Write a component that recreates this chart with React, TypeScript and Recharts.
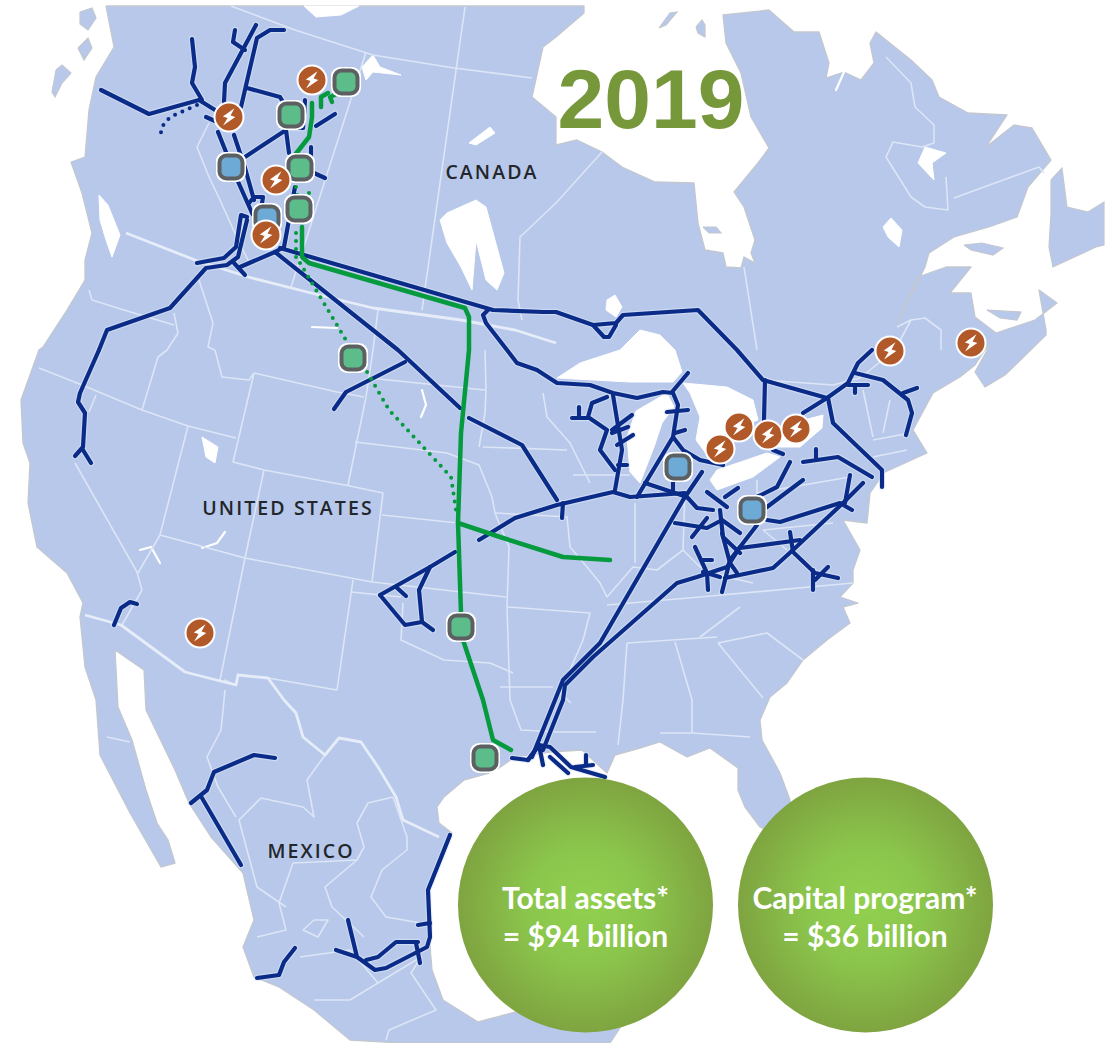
import React from "react";
import { ScatterChart, Scatter, XAxis, YAxis } from "recharts";

type P = [number, number];

const land: P[] = [[106,6],[114,47],[96,77],[89,110],[85,157],[71,162],[82,193],[92,233],[85,260],[85,280],[67,310],[43,347],[39,350],[21,400],[23,443],[30,463],[28,503],[37,547],[67,573],[83,603],[80,617],[85,667],[96,700],[100,755],[130,813],[161,867],[175,863],[168,840],[157,823],[146,790],[132,740],[118,707],[115,650],[144,670],[146,710],[175,770],[189,803],[211,837],[243,873],[254,920],[243,947],[254,977],[279,987],[314,1010],[350,1040],[400,1043],[610,1043],[622,1025],[560,1000],[478,1022],[443,1000],[432,970],[428,923],[428,887],[443,857],[452,833],[439,823],[437,807],[444,797],[464,780],[489,773],[496,770],[515,757],[550,752],[582,750],[607,773],[615,755],[640,748],[660,742],[687,757],[710,748],[738,768],[738,790],[745,807],[760,827],[790,840],[790,800],[780,773],[762,740],[760,720],[770,697],[787,683],[803,660],[827,640],[850,623],[843,607],[858,603],[840,597],[853,583],[853,570],[860,550],[843,520],[867,523],[870,493],[877,483],[883,473],[927,453],[913,430],[933,393],[960,377],[975,365],[985,350],[990,345],[975,372],[985,387],[1005,375],[1046,335],[1046,330],[1039,290],[1057,303],[1035,320],[996,333],[975,317],[971,293],[950,293],[971,267],[946,267],[918,277],[897,323],[925,267],[929,253],[954,237],[989,227],[1017,217],[1028,187],[1051,160],[1032,128],[1014,125],[986,147],[1007,115],[968,113],[939,97],[932,80],[911,60],[876,32],[870,43],[874,63],[861,80],[844,72],[826,78],[829,63],[819,32],[794,32],[769,10],[723,15],[726,43],[741,73],[751,117],[769,148],[758,163],[734,192],[744,207],[755,240],[751,253],[755,263],[744,257],[741,268],[726,267],[723,253],[705,250],[698,223],[694,183],[655,182],[622,167],[602,152],[577,140],[556,145],[556,117],[532,97],[543,47],[556,37],[584,13],[584,6],[106,6]];

const newfoundland: P[] = [[1051,180],[1062,168],[1067,207],[1088,212],[1104,202],[1104,245],[1096,247],[1053,267],[1049,247],[1051,213],[1051,180]];
const anticosti: P[] = [[964,245],[982,243],[1003,248],[993,255],[971,250],[964,245]];
const princeEdward: P[] = [[987,310],[1021,312],[1017,320],[1000,318],[987,310]];
const hudsonIslandA: P[] = [[659,28],[670,13],[677,12],[666,25],[659,28]];
const hudsonIslandB: P[] = [[696,27],[702,20],[705,25],[705,37],[698,33],[696,27]];
const akimiski: P[] = [[703,227],[716,227],[721,233],[709,233],[703,227]];
const haidaGwaii: P[] = [[56,70],[62,65],[71,73],[62,83],[55,97],[52,92],[56,70]];
const panhandleA: P[] = [[80,12],[92,8],[96,18],[88,30],[80,24],[80,12]];
const panhandleB: P[] = [[78,48],[88,38],[92,48],[84,60],[78,48]];
const islands = [newfoundland, anticosti, princeEdward, hudsonIslandA, hudsonIslandB, akimiski, haidaGwaii, panhandleA, panhandleB];

const strait: P[] = [[99,195],[108,205],[120,235],[112,257],[106,240],[100,220],[99,195]];
const superior: P[] = [[557,378],[580,363],[620,350],[640,330],[660,335],[675,350],[682,372],[673,382],[630,382],[593,380],[557,378]];
const michigan: P[] = [[636,411],[667,393],[674,407],[662,423],[654,447],[640,483],[630,472],[627,437],[636,411]];
const huron: P[] = [[683,383],[727,387],[753,400],[758,420],[717,437],[707,455],[696,440],[700,417],[690,393],[683,383]];
const erie: P[] = [[710,480],[717,470],[767,453],[780,457],[753,477],[717,490],[710,480]];
const ontarioLake: P[] = [[775,447],[785,425],[823,415],[822,428],[800,447],[775,447]];
const winnipeg: P[] = [[440,220],[447,213],[476,200],[486,207],[504,273],[497,290],[486,280],[476,240],[472,290],[461,267],[447,243],[440,220]];
const greatSlave: P[] = [[362,67],[373,55],[380,67],[401,75],[373,72],[366,80],[362,67]];
const greatBear: P[] = [[304,6],[359,6],[341,15],[316,17],[304,6]];
const athabasca: P[] = [[469,143],[490,127],[495,133],[476,145],[469,143]];
const woods: P[] = [[607,300],[615,295],[622,307],[616,317],[606,310],[607,300]];
const mistassini: P[] = [[883,227],[891,218],[902,230],[899,247],[888,237],[883,227]];
const caniapiscau: P[] = [[918,163],[925,147],[946,153],[932,163],[934,180],[918,163]];
const saltLake: P[] = [[202,437],[218,447],[215,463],[206,457],[202,437]];
const lakes = [strait, superior, michigan, huron, erie, ontarioLake, winnipeg, greatSlave, greatBear, athabasca, woods, mistassini, caniapiscau, saltLake];

const parallel49: P[] = [[126,233],[195,260],[248,277],[319,295],[373,308],[461,320],[515,330],[556,343]];
const mexicoBorder: P[] = [[85,615],[121,625],[185,672],[236,685],[238,675],[268,678],[284,700],[296,713],[303,737],[325,755],[339,738],[361,742],[378,767],[396,797],[403,820],[439,837]];
const wideBorders = [parallel49, mexicoBorder];

const borders: P[][] = [
  [[39,368],[82,385],[142,410],[188,426],[236,438]],
  [[254,373],[233,462],[264,470],[350,486],[383,493],[372,582]],
  [[254,373],[337,392],[364,397]],
  [[264,470],[245,558]],
  [[382,515],[458,523]],
  [[160,535],[245,558],[372,582],[506,597]],
  [[245,558],[220,680]],
  [[353,580],[337,690],[268,678]],
  [[224,680],[236,685]],
  [[188,426],[160,535],[138,573]],
  [[75,463],[137,572],[142,590],[122,625]],
  [[158,357],[142,410]],
  [[96,395],[89,412]],
  [[215,350],[222,377],[249,380],[254,373]],
  [[199,280],[213,323],[208,347],[215,350]],
  [[174,313],[178,333],[167,350],[158,357]],
  [[89,290],[92,300],[124,310],[174,325]],
  [[378,310],[373,350],[366,397],[348,485]],
  [[369,378],[485,390]],
  [[355,442],[447,453],[479,465],[492,497],[495,513],[509,547]],
  [[485,350],[486,390],[485,413],[479,447]],
  [[483,447],[567,450]],
  [[495,513],[568,517]],
  [[509,547],[507,607],[510,700],[521,730],[557,732],[596,732]],
  [[351,592],[401,597]],
  [[403,603],[401,640],[444,660],[490,663],[513,673]],
  [[507,607],[590,613],[583,640],[570,670],[557,690],[571,703]],
  [[500,687],[553,687]],
  [[567,517],[570,547],[587,567],[600,583],[607,597],[633,567],[657,570],[683,550],[700,567],[727,577],[753,583]],
  [[607,605],[700,597],[853,583]],
  [[627,643],[717,637]],
  [[635,503],[635,563]],
  [[627,643],[623,700],[618,745]],
  [[675,642],[692,700],[692,733]],
  [[660,733],[692,733],[750,737]],
  [[718,643],[767,633],[803,660]],
  [[718,643],[763,698]],
  [[700,637],[740,607]],
  [[543,393],[547,417],[570,443],[590,483]],
  [[573,475],[630,475]],
  [[685,490],[683,550]],
  [[757,480],[757,493],[850,477]],
  [[763,530],[833,523]],
  [[763,530],[787,550]],
  [[863,390],[873,437]],
  [[883,433],[890,400]],
  [[873,440],[910,433]],
  [[873,457],[907,450]],
  [[763,380],[833,385],[860,378],[895,350],[911,320]],
  [[231,6],[295,30],[373,55],[454,68],[532,78]],
  [[209,123],[197,147],[209,177],[220,200],[238,240],[248,260]],
  [[366,52],[291,287]],
  [[465,7],[422,310]],
  [[602,152],[556,203],[520,237],[518,300],[522,320]],
  [[744,267],[757,350]],
  [[897,327],[911,320],[925,318],[941,330],[941,350]],
  [[886,57],[911,83],[915,107],[934,125],[934,143],[922,147],[893,142],[886,157],[911,197],[925,207],[948,210],[946,177]],
  [[954,198],[1039,167],[1044,173]],
  [[225,690],[221,730],[207,757],[218,787],[236,817]],
  [[325,755],[307,780],[314,817],[303,807],[261,798],[239,820],[257,887],[286,907]],
  [[393,797],[368,803],[357,823],[364,847],[357,860],[325,887],[332,907],[364,937]],
  [[393,797],[407,837],[407,850],[382,870],[371,897],[386,917],[421,923]],
  [[293,863],[357,860]],
  [[293,863],[279,903],[286,930],[257,937]],
  [[300,957],[350,950],[378,983],[350,1000],[314,1000]],
  [[378,983],[421,957],[411,973],[436,1010],[389,1030],[386,1040]],
  [[314,920],[303,930],[318,937],[328,920],[314,920]],
  [[107,737],[130,742]],
];

const waterLines: P[][] = [
  [[422,390],[426,405],[421,417]],
  [[140,550],[151,547],[160,563]],
  [[202,548],[217,543],[225,532]],
  [[312,327],[337,328]],
  [[844,72],[836,90]],
];

const pipelines: P[][] = [
  [[101,90],[149,114],[199,100],[215,110]],
  [[192,39],[195,67],[192,83],[202,100]],
  [[235,30],[233,42],[245,50]],
  [[256,25],[225,83],[224,102]],
  [[284,30],[270,30],[257,38],[241,107]],
  [[247,88],[280,97],[286,107]],
  [[206,117],[215,121]],
  [[305,100],[303,128],[286,128]],
  [[335,114],[316,126]],
  [[245,157],[286,130],[289,153]],
  [[218,132],[236,177],[252,213],[261,227]],
  [[234,135],[245,168],[254,200]],
  [[249,203],[254,197],[263,197],[261,210]],
  [[311,147],[311,160]],
  [[314,173],[325,178]],
  [[295,187],[284,247],[275,252]],
  [[197,263],[224,258],[236,247],[241,215],[247,217]],
  [[99,350],[107,330],[170,308],[206,268],[227,265],[238,257],[247,220]],
  [[99,350],[80,393],[78,402],[85,413],[83,447],[75,456]],
  [[83,450],[91,463]],
  [[245,275],[234,263]],
  [[240,267],[275,252]],
  [[280,248],[493,310],[543,312],[556,312],[593,325],[616,323],[623,315],[698,310],[737,350],[763,380],[827,398]],
  [[593,325],[604,337],[609,337],[616,325]],
  [[275,252],[398,350],[460,408]],
  [[469,418],[522,445],[557,500]],
  [[405,362],[346,392],[334,409]],
  [[488,310],[483,315],[486,323],[507,350],[517,363],[537,370],[557,383],[590,385],[613,393],[637,398],[663,392],[673,393],[678,405],[673,437],[683,450],[700,460],[723,465]],
  [[672,392],[688,373]],
  [[613,395],[622,450],[615,490]],
  [[607,397],[592,403],[588,417],[607,430],[600,450],[615,470]],
  [[572,418],[588,418]],
  [[579,407],[579,418]],
  [[632,415],[612,430]],
  [[628,427],[612,433]],
  [[633,435],[617,445]],
  [[627,465],[618,465]],
  [[667,412],[688,410]],
  [[675,433],[685,430]],
  [[673,437],[637,497]],
  [[380,595],[430,567],[455,552]],
  [[479,540],[515,518],[557,505],[600,495],[613,492],[630,497],[685,493]],
  [[380,595],[405,625],[422,622],[433,630]],
  [[396,587],[406,596]],
  [[430,567],[419,590],[422,622]],
  [[563,503],[562,518]],
  [[645,483],[687,497],[697,508],[713,510]],
  [[673,482],[673,493]],
  [[702,472],[683,500],[600,643],[563,680],[555,700],[532,757]],
  [[757,525],[740,547],[727,567],[697,577],[677,583],[593,657],[565,685],[563,700],[543,750]],
  [[722,592],[730,560],[740,547]],
  [[725,578],[773,568],[793,550],[843,503],[863,483]],
  [[740,548],[800,540]],
  [[790,532],[793,552],[815,573],[838,578]],
  [[813,570],[813,590]],
  [[815,580],[828,567]],
  [[675,523],[707,528],[722,520],[740,533]],
  [[707,518],[692,537]],
  [[720,510],[723,537],[740,553]],
  [[722,533],[730,563],[737,573]],
  [[707,492],[727,507]],
  [[725,497],[738,488]],
  [[767,507],[803,480]],
  [[757,497],[777,487],[790,462]],
  [[767,520],[780,522],[840,503],[852,510]],
  [[850,475],[845,503]],
  [[803,462],[838,457],[872,477]],
  [[816,449],[816,458]],
  [[773,450],[783,454]],
  [[695,547],[707,573],[708,590]],
  [[703,560],[712,560]],
  [[703,572],[720,577]],
  [[765,380],[764,420]],
  [[803,413],[827,398],[848,383],[858,363],[872,350]],
  [[828,398],[833,423],[882,470],[882,487]],
  [[855,373],[883,380],[908,400],[912,413],[906,435]],
  [[903,393],[917,388]],
  [[848,385],[868,385]],
  [[855,385],[855,393]],
  [[512,758],[528,760],[539,745],[550,747],[571,767],[605,777]],
  [[528,760],[539,745],[543,765]],
  [[550,757],[568,773]],
  [[575,767],[593,765]],
  [[586,755],[586,765]],
  [[191,803],[207,790],[214,772],[254,755],[275,758]],
  [[202,798],[241,865]],
  [[450,835],[428,890],[430,937],[427,947],[386,968],[375,970],[357,957],[348,920]],
  [[418,925],[430,923]],
  [[336,950],[357,957]],
  [[366,960],[378,957],[396,942],[418,942]],
  [[416,943],[420,963]],
  [[295,948],[284,962],[279,975],[257,978]],
  [[114,625],[121,608],[130,602],[137,604]],
];

const plannedNavy: P[] = [[197,105],[170,117],[161,128],[161,137]];

const greenLines: P[][] = [
  [[302,227],[302,257],[309,263],[465,308],[469,317],[469,350],[461,433],[458,523],[461,613],[463,640],[483,700],[493,740],[511,750]],
  [[458,523],[500,537],[563,557],[610,560]],
  [[312,103],[312,117],[309,137],[291,160]],
  [[321,107],[321,97],[328,93]],
  [[332,102],[330,97],[339,93]],
];
const greenDotted: P[][] = [
  [[300,263],[350,347],[366,370],[389,410],[426,450],[451,477],[456,510]],
  [[296,187],[298,200]],
  [[309,193],[307,200]],
  [[296,233],[296,262]],
];

const greenProjects: P[] = [[346,82],[291,115],[300,168],[299,209],[353,358],[461,627],[485,758]];
const blueProjects: P[] = [[231,167],[267,218],[678,467],[752,510]];
const powerAssets: P[] = [[312,80],[229,117],[276,180],[266,235],[890,351],[971,343],[739,427],[720,449],[768,435],[796,429],[200,633]];

const mapLabels = [
  { x: 492, y: 171, text: "CANADA" },
  { x: 288, y: 507, text: "UNITED STATES" },
  { x: 311, y: 850, text: "MEXICO" },
];
const bubbles: P[] = [[585.5, 905], [865.5, 905]];
const bubbleLines = [
  { x: 585.5, y: 897, text: "Total assets*" },
  { x: 585.5, y: 935, text: "= $94 billion" },
  { x: 865, y: 897, text: "Capital program*" },
  { x: 865, y: 935, text: "= $36 billion" },
];
const yearLabel = [{ x: 651, y: 99, text: "2019" }];

const pts = (a: P[]) => a.map(([x, y]) => ({ x, y }));
const noMark = () => <g />;

const NAVY = "#0a2c88";
const GREEN = "#069a3e";
const LAND = "#b7c8ea";

const poly = (key: string, data: P[], line: any) => (
  <Scatter key={key} data={pts(data)} line={line} lineType="joint" shape={noMark} isAnimationActive={false} legendType="none" />
);

const Square = (color: string) => (p: any) => (
  <g>
    <rect x={p.cx - 15} y={p.cy - 15} width={30} height={30} rx={9} fill="#ffffff" />
    <rect x={p.cx - 11.5} y={p.cy - 11.5} width={23} height={23} rx={7} fill={color} stroke="#5d6062" strokeWidth={4} />
  </g>
);

const Power = (p: any) => (
  <g>
    <circle cx={p.cx} cy={p.cy} r={14.5} fill="#b2592a" stroke="#ffffff" strokeWidth={2} />
    <path
      transform={`translate(${p.cx} ${p.cy}) rotate(18)`}
      d="M2.5,-10 L-6,1.5 L-1,1.5 L-3,10 L6,-2 L1,-2 Z"
      fill="#ffffff"
    />
  </g>
);

const textShape = (style: any) => (p: any) => (
  <text x={p.cx} y={p.cy} textAnchor="middle" dominantBaseline="central" {...style}>
    {p.payload.text}
  </text>
);

const Bubble = (p: any) => <circle cx={p.cx} cy={p.cy} r={127.5} fill="url(#bubbleGrad)" />;

export default function App() {
  return (
    <div style={{ position: "absolute", left: 0, top: 0, width: 1112, height: 1043, background: "#fff" }}>
      <ScatterChart width={1112} height={1043} margin={{ top: 0, right: 0, bottom: 0, left: 0 }}>
        <defs>
          <radialGradient id="bubbleGrad" cx="50%" cy="50%" r="50%">
            <stop offset="0%" stopColor="#91d04f" />
            <stop offset="45%" stopColor="#8bc64c" />
            <stop offset="100%" stopColor="#7fa440" />
          </radialGradient>
        </defs>
        <XAxis type="number" dataKey="x" domain={[0, 1112]} hide allowDataOverflow />
        <YAxis type="number" dataKey="y" domain={[0, 1043]} reversed hide allowDataOverflow width={0} />

        {poly("land", land, { fill: LAND, stroke: "#c3c7d0", strokeWidth: 1.3, strokeLinejoin: "round" })}
        {islands.map((d, i) => poly(`isl${i}`, d, { fill: LAND, stroke: "#c3c7d0", strokeWidth: 1.2 }))}
        {lakes.map((d, i) => poly(`lake${i}`, d, { fill: "#ffffff", stroke: "#ffffff", strokeWidth: 1, strokeLinejoin: "round" }))}
        {waterLines.map((d, i) => poly(`wl${i}`, d, { stroke: "#ffffff", strokeWidth: 2.2, fill: "none", strokeLinecap: "round" }))}
        {borders.map((d, i) => poly(`b${i}`, d, { stroke: "#dde5f6", strokeWidth: 1.6, fill: "none", strokeLinejoin: "round" }))}
        {wideBorders.map((d, i) => poly(`wb${i}`, d, { stroke: "#e6edf9", strokeWidth: 2.8, fill: "none", strokeLinejoin: "round" }))}

        {pipelines.map((d, i) => poly(`halo${i}`, d, { stroke: "#dfe7f7", strokeOpacity: 0.55, strokeWidth: 6.5, fill: "none", strokeLinecap: "round", strokeLinejoin: "round" }))}
        {pipelines.map((d, i) => poly(`pipe${i}`, d, { stroke: NAVY, strokeWidth: 4.2, fill: "none", strokeLinecap: "round", strokeLinejoin: "round" }))}
        {poly("navyDots", plannedNavy, { stroke: NAVY, strokeWidth: 4, fill: "none", strokeLinecap: "round", strokeDasharray: "0 8" })}
        {greenLines.map((d, i) => poly(`green${i}`, d, { stroke: GREEN, strokeWidth: 4.5, fill: "none", strokeLinecap: "round", strokeLinejoin: "round" }))}
        {greenDotted.map((d, i) => poly(`gd${i}`, d, { stroke: GREEN, strokeWidth: 4, fill: "none", strokeLinecap: "round", strokeDasharray: "0 8" }))}

        <Scatter data={pts(blueProjects)} shape={Square("#6eaad6")} isAnimationActive={false} />
        <Scatter data={pts(greenProjects)} shape={Square("#5cbd8a")} isAnimationActive={false} />
        <Scatter data={pts(powerAssets)} shape={Power} isAnimationActive={false} />

        <Scatter data={mapLabels} isAnimationActive={false}
          shape={textShape({ fontFamily: "'Open Sans', sans-serif", fontWeight: 600, fontSize: 19.5, letterSpacing: 2.1, fill: "#23262b" })} />
        <Scatter data={pts(bubbles)} shape={Bubble} isAnimationActive={false} />
        <Scatter data={bubbleLines} isAnimationActive={false}
          shape={textShape({ fontFamily: "Lato, sans-serif", fontWeight: 700, fontSize: 30, fill: "#ffffff" })} />
        <Scatter data={yearLabel} isAnimationActive={false}
          shape={textShape({ fontFamily: "'Liberation Sans', Arial, sans-serif", fontWeight: 700, fontSize: 84, fill: "#76983b" })} />
      </ScatterChart>
    </div>
  );
}
